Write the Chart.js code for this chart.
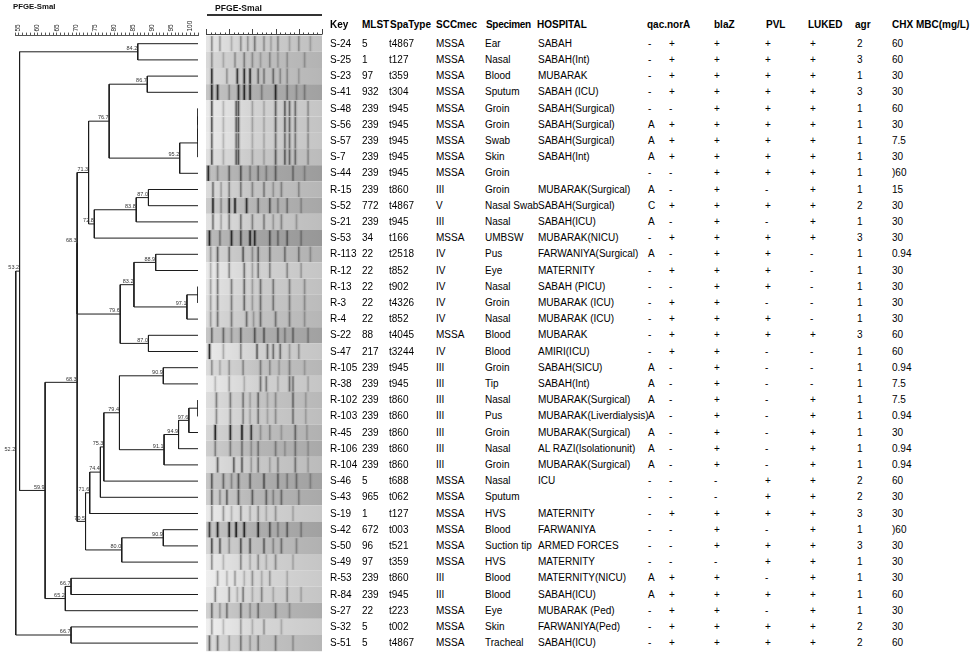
<!DOCTYPE html>
<html>
<head>
<meta charset="utf-8">
<title>PFGE-SmaI dendrogram</title>
<script src="https://cdn.jsdelivr.net/npm/chart.js@4.4.1/dist/chart.umd.min.js"></script>
<style>
  body { margin: 0; background: #fff; font-family: "Liberation Sans", Arial, sans-serif; }
  #wrap { position: relative; width: 970px; height: 656px; overflow: hidden; background: #fff; }
  #tree { position: absolute; left: 0; top: 0; }
  .t { position: absolute; font-size: 10px; line-height: 12px; color: #000; white-space: nowrap; }
  .h { font-weight: bold; }
  .title { position: absolute; font-weight: bold; color: #111; white-space: nowrap; }
  #gelLine { position: absolute; left: 207px; top: 14px; width: 115px; height: 1.5px; background: #333; }
</style>
</head>
<body>
<div id="wrap">
  <canvas id="tree" width="325" height="656"></canvas>
  <div class="title" style="left:13px;top:2px;font-size:7.8px;line-height:10px;">PFGE-SmaI</div>
  <div class="title" style="left:215px;top:3px;font-size:8.6px;line-height:11px;">PFGE-SmaI</div>
  <div id="gelLine"></div>
  <div id="table"></div>
</div>
<script>
// Isolados (ordem das folhas do dendrograma)
const keys = ['S-24','S-25','S-23','S-41','S-48','S-56','S-57','S-7','S-44','R-15','S-52','S-21','S-53','R-113','R-12','R-13','R-3','R-4','S-22','S-47','R-105','R-38','R-102','R-103','R-45','R-106','R-104','S-46','S-43','S-19','S-42','S-50','S-49','R-53','R-84','S-27','S-32','S-51'];
const mlst = ['5','1','97','932','239','239','239','239','239','239','772','239','34','22','22','22','22','22','88','217','239','239','239','239','239','239','239','5','965','1','672','96','97','239','239','22','5','5'];
const spaTypes = ['t4867','t127','t359','t304','t945','t945','t945','t945','t945','t860','t4867','t945','t166','t2518','t852','t902','t4326','t852','t4045','t3244','t945','t945','t860','t860','t860','t860','t860','t688','t062','t127','t003','t521','t359','t860','t945','t223','t002','t4867'];
const sccmec = ['MSSA','MSSA','MSSA','MSSA','MSSA','MSSA','MSSA','MSSA','MSSA','III','V','III','MSSA','IV','IV','IV','IV','IV','MSSA','IV','III','III','III','III','III','III','III','MSSA','MSSA','MSSA','MSSA','MSSA','MSSA','III','III','MSSA','MSSA','MSSA'];
const specimens = ['Ear','Nasal','Blood','Sputum','Groin','Groin','Swab','Skin','Groin','Groin','Nasal Swab','Nasal','UMBSW','Pus','Eye','Nasal','Groin','Nasal','Blood','Blood','Groin','Tip','Nasal','Pus','Groin','Nasal','Groin','Nasal','Sputum','HVS','Blood','Suction tip','HVS','Blood','Blood','Eye','Skin','Tracheal'];
const hospitals = ['SABAH','SABAH(Int)','MUBARAK','SABAH (ICU)','SABAH(Surgical)','SABAH(Surgical)','SABAH(Surgical)','SABAH(Int)','','MUBARAK(Surgical)','SABAH(Surgical)','SABAH(ICU)','MUBARAK(NICU)','FARWANIYA(Surgical)','MATERNITY','SABAH (PICU)','MUBARAK (ICU)','MUBARAK (ICU)','MUBARAK','AMIRI(ICU)','SABAH(SICU)','SABAH(Int)','MUBARAK(Surgical)','MUBARAK(Liverdialysis)','MUBARAK(Surgical)','AL RAZI(Isolationunit)','MUBARAK(Surgical)','ICU','','MATERNITY','FARWANIYA','ARMED FORCES','MATERNITY','MATERNITY(NICU)','SABAH(ICU)','MUBARAK (Ped)','FARWANIYA(Ped)','SABAH(ICU)'];
const qac = ['-','-','-','-','-','A','A','A','-','A','C','A','-','A','-','-','-','-','-','-','A','A','A','A','A','A','A','-','-','-','-','-','-','A','A','-','-','-'];
const norA = ['+','+','+','+','-','+','+','+','-','-','+','-','+','-','+','-','+','+','+','+','-','-','-','-','-','-','-','-','-','+','-','-','-','+','+','+','+','+'];
const blaZ = ['+','+','+','+','+','+','+','+','+','+','+','+','+','+','+','+','+','+','+','+','+','+','+','+','+','+','+','-','-','+','+','+','-','+','+','+','+','+'];
const pvl = ['+','+','+','+','+','+','+','+','+','-','+','-','+','+','+','+','-','+','+','-','-','-','-','-','-','-','-','+','+','+','-','+','+','-','+','-','+','+'];
const luked = ['+','+','+','+','+','+','+','+','+','+','+','+','+','-','-','-','-','-','+','-','-','-','+','+','+','+','+','+','+','+','+','+','+','+','+','+','+','+'];
const agr = ['2','3','1','3','1','1','1','1','1','1','2','1','3','1','1','1','1','1','3','1','1','1','1','1','1','1','1','2','2','3','1','3','1','1','1','1','2','2'];
const chxMbc = ['60','60','30','30','60','30','7.5','30',')60','15','30','30','30','0.94','30','30','30','30','60','60','0.94','7.5','7.5','0.94','30','0.94','0.94','60','30','30',')60','30','30','30','60','30','30','60'];

// Dendrograma: [similaridade %, ramo, ramo]; números = índice da folha
const tree =
  [52.2,
    [53.2,
      [84.2, 0, 1],
      [59.9,
        [68.3,
          [68.3,
            [71.3,
              [76.7, [86.7, 2, 3], [95.2, [100, [100, [100, 4, 5], 6], 7], 8]],
              [72.8, [83.8, [87.0, 9, 10], 11], 12]],
            [79.6,
              [83.2, [88.9, 13, 14], [97.1, [100, 15, 16], 17]],
              [87.0, 18, 19]]],
          [70.5,
            [71.6, [74.4, [75.3, [79.4, [90.9, 20, 21], [91.1, [94.9, [97.6, [100, 22, 23], 24], 25], 26]], 27], 28], 29],
            [80.0, [90.9, 30, 31], 32]]],
        [65.2, [66.7, 33, 34], 35]]],
    [66.7, 36, 37]];

// Escala de similaridade
const simTicks = [55, 60, 65, 70, 75, 80, 85, 90, 95, 100];

// Gel PFGE: tom de fundo por canaleta e bandas [posição, intensidade]
const gelTone = [0.80,0.75,0.76,0.68,0.82,0.81,0.82,0.78,0.66,0.76,0.70,0.79,0.64,0.74,0.82,0.80,0.78,0.76,0.68,0.82,0.76,0.82,0.77,0.79,0.74,0.71,0.78,0.68,0.71,0.82,0.68,0.74,0.82,0.84,0.82,0.72,0.84,0.76];
const gelBands = [
  [[0.05,.4],[0.12,.3],[0.22,.2],[0.30,.35],[0.36,.3],[0.42,.45],[0.50,.3],[0.56,.2],[0.62,.35],[0.72,.2],[0.80,.3],[0.9,.2]],
  [[0.05,.35],[0.15,.2],[0.25,.3],[0.33,.4],[0.40,.3],[0.47,.2],[0.55,.3],[0.62,.2],[0.70,.25],[0.85,.25]],
  [[0.05,.9],[0.18,.3],[0.27,.85],[0.33,.9],[0.38,.9],[0.45,.5],[0.50,.4],[0.58,.5],[0.64,.3],[0.70,.3],[0.8,.2]],
  [[0.05,.95],[0.10,.9],[0.20,.3],[0.28,.9],[0.33,.95],[0.38,.9],[0.48,.3],[0.60,.95],[0.70,.4],[0.78,.25],[0.85,.3]],
  [[0.05,.7],[0.15,.2],[0.26,.6],[0.28,.7],[0.40,.25],[0.50,.2],[0.60,.6],[0.68,.6],[0.72,.55],[0.77,.5],[0.88,.3]],
  [[0.05,.7],[0.15,.2],[0.26,.6],[0.28,.7],[0.40,.25],[0.50,.2],[0.60,.6],[0.68,.6],[0.72,.55],[0.77,.5],[0.88,.3]],
  [[0.05,.6],[0.15,.2],[0.26,.5],[0.28,.6],[0.40,.2],[0.50,.2],[0.60,.5],[0.68,.5],[0.72,.5],[0.77,.45],[0.88,.3]],
  [[0.05,.7],[0.15,.2],[0.26,.6],[0.28,.7],[0.40,.25],[0.50,.2],[0.60,.6],[0.68,.6],[0.72,.55],[0.77,.5],[0.88,.3]],
  [[0.02,.95],[0.10,.3],[0.20,.5],[0.30,.6],[0.38,.3],[0.45,.4],[0.52,.3],[0.60,.5],[0.75,.4],[0.85,.25]],
  [[0.06,.5],[0.13,.25],[0.20,.4],[0.30,.45],[0.40,.35],[0.50,.4],[0.58,.25],[0.65,.35],[0.80,.3]],
  [[0.06,.95],[0.13,.3],[0.20,.9],[0.25,.95],[0.35,.9],[0.45,.5],[0.55,.6],[0.62,.3],[0.70,.4],[0.82,.25]],
  [[0.06,.5],[0.13,.25],[0.20,.45],[0.30,.5],[0.40,.4],[0.50,.4],[0.58,.25],[0.65,.35],[0.78,.25]],
  [[0.03,1],[0.12,.4],[0.22,.95],[0.30,.7],[0.38,.95],[0.42,.9],[0.55,.6],[0.62,.4],[0.70,.5],[0.82,.3]],
  [[0.04,.3],[0.10,.6],[0.20,.5],[0.32,.6],[0.40,.3],[0.45,.55],[0.55,.5],[0.68,.45],[0.80,.4],[0.9,.25]],
  [[0.04,.25],[0.10,.45],[0.20,.4],[0.33,.5],[0.40,.25],[0.45,.45],[0.55,.4],[0.70,.35],[0.82,.25]],
  [[0.04,.3],[0.10,.5],[0.22,.45],[0.33,.55],[0.40,.25],[0.47,.5],[0.58,.45],[0.72,.4],[0.85,.3]],
  [[0.04,.3],[0.10,.5],[0.22,.45],[0.33,.55],[0.40,.25],[0.47,.5],[0.58,.45],[0.72,.4],[0.85,.3]],
  [[0.04,.3],[0.10,.5],[0.22,.45],[0.35,.5],[0.41,.25],[0.47,.5],[0.60,.45],[0.72,.4],[0.85,.25]],
  [[0.05,.5],[0.15,.5],[0.22,.3],[0.30,.55],[0.42,.6],[0.50,.55],[0.62,.5],[0.68,.3],[0.75,.45],[0.88,.3]],
  [[0.03,1],[0.15,.25],[0.30,.4],[0.44,.6],[0.53,.55],[0.58,.5],[0.64,.5],[0.72,.25],[0.80,.3]],
  [[0.05,.35],[0.12,.2],[0.20,.3],[0.32,.35],[0.47,.4],[0.55,.3],[0.63,.2],[0.72,.35],[0.85,.2]],
  [[0.08,.2],[0.20,.3],[0.33,.2],[0.47,.5],[0.52,.45],[0.62,.2],[0.72,.5],[0.75,.45],[0.88,.2]],
  [[0.09,.45],[0.21,.45],[0.32,.45],[0.38,.2],[0.45,.5],[0.53,.2],[0.60,.3],[0.75,.5],[0.86,.2]],
  [[0.09,.4],[0.21,.4],[0.32,.4],[0.38,.2],[0.45,.45],[0.53,.2],[0.60,.3],[0.75,.45],[0.86,.2]],
  [[0.08,1],[0.21,.95],[0.31,1],[0.39,.8],[0.47,.25],[0.55,.3],[0.65,.2],[0.77,.5],[0.87,.2]],
  [[0.08,.4],[0.21,.4],[0.31,.45],[0.39,.25],[0.45,.4],[0.60,.35],[0.68,.2],[0.77,.4],[0.88,.2]],
  [[0.10,.6],[0.24,.6],[0.31,.6],[0.39,.25],[0.45,.45],[0.55,.2],[0.62,.35],[0.77,.45],[0.88,.2]],
  [[0.05,.6],[0.15,.5],[0.22,.3],[0.28,.6],[0.38,.5],[0.50,.6],[0.62,.5],[0.70,.3],[0.78,.4],[0.9,.25]],
  [[0.05,.6],[0.12,.3],[0.18,.55],[0.28,.6],[0.40,.55],[0.52,.5],[0.58,.3],[0.65,.45],[0.8,.3]],
  [[0.05,.4],[0.15,.35],[0.22,.2],[0.30,.4],[0.38,.2],[0.45,.35],[0.52,.2],[0.60,.3],[0.75,.2]],
  [[0.03,.8],[0.10,.95],[0.20,.95],[0.26,1],[0.33,.95],[0.45,.9],[0.55,.6],[0.62,.3],[0.70,.5],[0.82,.3]],
  [[0.05,.7],[0.12,.6],[0.20,.3],[0.30,.65],[0.38,.6],[0.50,.55],[0.58,.3],[0.65,.45],[0.78,.3]],
  [[0.05,.4],[0.15,.2],[0.30,.4],[0.38,.2],[0.45,.35],[0.52,.2],[0.60,.35],[0.75,.2]],
  [[0.10,.35],[0.18,.2],[0.25,.3],[0.33,.2],[0.40,.35],[0.48,.2],[0.55,.3],[0.7,.2]],
  [[0.08,.45],[0.20,.4],[0.27,.2],[0.32,.45],[0.40,.2],[0.48,.4],[0.58,.2],[0.70,.35],[0.82,.2]],
  [[0.05,.5],[0.12,.25],[0.18,.45],[0.30,.5],[0.38,.25],[0.45,.45],[0.60,.4],[0.72,.25]],
  [[0.05,.35],[0.15,.2],[0.30,.3],[0.40,.2],[0.50,.3],[0.65,.2]],
  [[0.03,.6],[0.10,.5],[0.20,.25],[0.30,.45],[0.38,.25],[0.45,.4],[0.60,.4],[0.75,.25]]
];

// Monta os segmentos do dendrograma a partir da árvore
const segs = [];
const nodeLabels = [];
function place(node) {
  if (typeof node === 'number') return { x: 100, y: node };
  const a = place(node[1]);
  const b = place(node[2]);
  const sim = node[0];
  segs.push({ x: a.x, y: a.y }, { x: sim, y: a.y }, { x: sim, y: b.y }, { x: b.x, y: b.y }, { x: null, y: null });
  const y = (a.y + b.y) / 2;
  if (sim < 100) nodeLabels.push({ x: sim, y: y });
  return { x: sim, y: y };
}
place(tree);

const GEL_LEFT = 206, GEL_RIGHT = 322;

// Rótulos de similaridade nos nós
const nodeLabelPlugin = {
  id: 'nodeLabels',
  afterDatasetsDraw(chart) {
    const ctx = chart.ctx, xs = chart.scales.x, ys = chart.scales.y;
    ctx.save();
    ctx.font = '5.5px "Liberation Sans", Arial, sans-serif';
    ctx.fillStyle = '#333';
    ctx.textAlign = 'right';
    ctx.textBaseline = 'bottom';
    nodeLabels.forEach(n => {
      ctx.fillText(n.x.toFixed(1), xs.getPixelForValue(n.x) - 0.5, ys.getPixelForValue(n.y) - 0.5);
    });
    ctx.restore();
  }
};

// Imagem do gel, uma canaleta por linha do eixo y
const gelPlugin = {
  id: 'gel',
  afterDraw(chart) {
    const ctx = chart.ctx, ys = chart.scales.y;
    const w = GEL_RIGHT - GEL_LEFT;
    ctx.save();
    gelTone.forEach((tone, i) => {
      const top = ys.getPixelForValue(i - 0.5), bot = ys.getPixelForValue(i + 0.5);
      const g = Math.round(255 * tone);
      const grad = ctx.createLinearGradient(GEL_LEFT, 0, GEL_RIGHT, 0);
      grad.addColorStop(0, `rgb(${g + 25},${g + 25},${g + 25})`);
      grad.addColorStop(0.45, `rgb(${g},${g},${g})`);
      grad.addColorStop(1, `rgb(${g - 12},${g - 12},${g - 12})`);
      ctx.fillStyle = grad;
      ctx.fillRect(GEL_LEFT, top, w, bot - top);
      gelBands[i].forEach(([pos, s]) => {
        const bx = GEL_LEFT + pos * w;
        ctx.fillStyle = `rgba(30,30,30,${s * 0.22})`;
        ctx.fillRect(bx - 2, top, 4, bot - top);
        ctx.fillStyle = `rgba(10,10,10,${s * 0.8})`;
        ctx.fillRect(bx - 0.8, top + 0.5, 1.6, bot - top - 1);
      });
    });
    // régua do gel
    ctx.strokeStyle = '#444';
    ctx.lineWidth = 1;
    ctx.beginPath();
    ctx.moveTo(GEL_LEFT, 34.5);
    ctx.lineTo(GEL_RIGHT, 34.5);
    for (let k = 0; k <= 25; k++) {
      const tx = Math.round(GEL_LEFT + k * w / 25) + 0.5;
      ctx.moveTo(tx, 34.5);
      ctx.lineTo(tx, k % 5 === 0 ? 29 : 32.5);
    }
    ctx.stroke();
    ctx.restore();
  }
};

const ctx = document.getElementById('tree').getContext('2d');
const chart = new Chart(ctx, {
  type: 'scatter',
  data: {
    datasets: [{
      data: segs,
      showLine: true,
      spanGaps: false,
      borderColor: '#1c1c1c',
      borderWidth: 1,
      pointRadius: 0,
      tension: 0
    }]
  },
  options: {
    responsive: false,
    animation: false,
    events: [],
    layout: { padding: { left: 15, right: 325 - 198, top: 0, bottom: 4.8 } },
    plugins: { legend: { display: false }, tooltip: { enabled: false } },
    scales: {
      x: {
        type: 'linear',
        position: 'top',
        min: 52,
        max: 100,
        ticks: {
          stepSize: 1,
          autoSkip: false,
          minRotation: 90,
          maxRotation: 90,
          padding: 1,
          color: '#222',
          font: { size: 6.5, family: '"Liberation Sans", Arial, sans-serif' },
          callback: v => simTicks.includes(v) ? String(v) : ''
        },
        grid: { drawOnChartArea: false, tickLength: 3, color: '#555', lineWidth: 1 },
        border: { display: true, color: '#555' },
        afterFit: s => { s.height = 35.6; }
      },
      y: { type: 'linear', reverse: true, min: -0.5, max: 37.5, display: false }
    }
  },
  plugins: [nodeLabelPlugin, gelPlugin]
});

// Tabela de características, alinhada às linhas do eixo y
const columns = [
  { head: 'Key', hx: 330, values: keys, x: 330 },
  { head: 'MLST', hx: 362, values: mlst, x: 362 },
  { head: 'SpaType', hx: 390, values: spaTypes, x: 389 },
  { head: 'SCCmec', hx: 436, values: sccmec, x: 436 },
  { head: 'Specimen', hx: 486, values: specimens, x: 485 },
  { head: 'HOSPITAL', hx: 537, values: hospitals, x: 538 },
  { head: 'qac.norA', hx: 647, values: qac, x: 648 },
  { head: '', hx: 0, values: norA, x: 669 },
  { head: 'blaZ', hx: 714, values: blaZ, x: 714 },
  { head: 'PVL', hx: 766, values: pvl, x: 765 },
  { head: 'LUKED', hx: 808, values: luked, x: 810 },
  { head: 'agr', hx: 855, values: agr, x: 857 },
  { head: 'CHX MBC(mg/L)', hx: 892, values: chxMbc, x: 892 }
];

const table = document.getElementById('table');
const ys = chart.scales.y;
function addText(txt, x, cy, cls) {
  const el = document.createElement('div');
  el.className = cls;
  el.textContent = txt;
  el.style.left = x + 'px';
  el.style.top = (cy - 6) + 'px';
  table.appendChild(el);
  return el;
}
columns.forEach(col => {
  if (col.head) {
    const el = addText(col.head, col.hx, 25, 't h');
    if (col.head === 'Specimen') el.style.letterSpacing = '-0.3px';
  }
  col.values.forEach((v, i) => {
    if (v !== '') addText(v, col.x, ys.getPixelForValue(i), 't');
  });
});
</script>
</body>
</html>
